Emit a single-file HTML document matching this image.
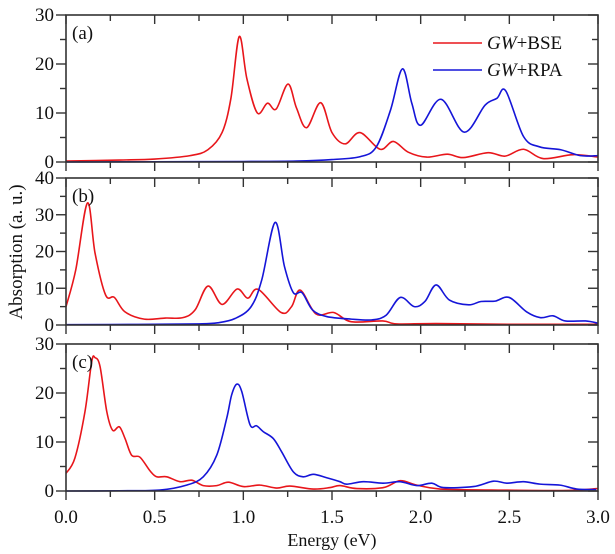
<!DOCTYPE html>
<html><head><meta charset="utf-8"><style>
html,body{margin:0;padding:0;background:#fff;}
svg{display:block;font-family:"Liberation Serif",serif;}
</style></head><body>
<svg id="chart" width="615" height="554" viewBox="0 0 615 554">
<text x="22" y="252" transform="rotate(-90 22 252)" text-anchor="middle" font-size="19" fill="#111">Absorption (a. u.)</text>
<text x="332" y="546" text-anchor="middle" font-size="18" fill="#111">Energy (eV)</text>
</svg>
<script>
const xTicks = [0, 0.5, 1.0, 1.5, 2.0, 2.5, 3.0];
const xTickLabels = ["0.0","0.5","1.0","1.5","2.0","2.5","3.0"];
const panelLabels = ["(a)","(b)","(c)"];
const panelMax = [30, 40, 30];
// panel (a)
const aBseE = [0,0.3,0.5,0.7,0.8,0.88,0.93,0.977,1.02,1.079,1.136,1.185,1.252,1.30,1.357,1.436,1.50,1.574,1.658,1.771,1.846,1.93,2.034,2.15,2.24,2.38,2.476,2.58,2.69,2.86,3.0];
const aBseV = [0.2,0.4,0.6,1.3,2.5,6,13,25.6,17,10,12,10.8,15.9,11,7,12.1,6,3.7,6,2.6,4.2,2,1,1.6,0.9,1.9,1.2,2.6,0.7,1.5,1.0];
const aRpaE = [0,0.5,1.0,1.3,1.5,1.66,1.75,1.83,1.897,1.95,2.0,2.115,2.245,2.363,2.43,2.48,2.58,2.67,2.79,2.9,3.0];
const aRpaV = [0,0.05,0.1,0.2,0.5,1.1,3.1,10.6,19,12,7.5,12.8,6.1,11.6,13,14.5,5.2,3.1,2.5,1.3,1.3];
// panel (b)
const bBseE = [0,0.055,0.121,0.164,0.223,0.273,0.332,0.441,0.56,0.659,0.728,0.801,0.88,0.965,1.025,1.084,1.213,1.272,1.321,1.41,1.51,1.607,1.786,1.865,2.09,2.5,3.0];
const bBseV = [5,15,33.2,19.5,8.2,7.5,3.6,1.6,1.9,2,4.1,10.6,5.6,9.8,7.3,9.7,3.4,5,9.5,3,3.4,0.9,1.1,0.3,0.4,0.2,0.2];
const bRpaE = [0,0.4,0.75,0.856,0.955,1.044,1.104,1.179,1.232,1.282,1.331,1.39,1.47,1.608,1.727,1.806,1.885,1.964,2.024,2.087,2.162,2.271,2.34,2.42,2.499,2.597,2.676,2.746,2.815,2.93,3.0];
const bRpaV = [0.1,0.15,0.3,0.6,1.8,5,12.3,27.9,15.9,8.8,8.8,4.1,2.3,1.6,1.4,2.7,7.5,5,6.4,10.9,6.8,5.5,6.4,6.5,7.5,3.6,2,2.5,1.1,1.1,0.5];
// panel (c)
const cBseE = [0,0.05,0.107,0.145,0.164,0.192,0.23,0.263,0.301,0.333,0.37,0.417,0.474,0.511,0.568,0.643,0.709,0.774,0.85,0.916,1.0,1.094,1.188,1.263,1.395,1.489,1.545,1.64,1.79,1.884,1.978,2.11,2.4,2.8,3.0];
const cBseV = [3.6,6.7,16.2,26.4,27.2,25.4,16.2,12.4,13.1,10.7,7.3,6.9,4.1,2.9,2.9,1.9,2.2,1.1,1.1,1.8,0.9,1.2,0.6,1,0.4,0.7,1.1,0.5,0.7,2.1,1.2,0.4,0.2,0.1,0.5];
const cRpaE = [0,0.3,0.53,0.68,0.774,0.85,0.906,0.934,0.963,0.991,1.038,1.075,1.113,1.169,1.216,1.282,1.338,1.395,1.47,1.545,1.583,1.677,1.79,1.884,1.978,2.063,2.128,2.297,2.41,2.486,2.58,2.673,2.786,2.88,2.99];
const cRpaV = [0,0.05,0.2,1.2,2.9,7.3,14.8,19.6,21.8,20.3,13.5,13.3,12.1,10.7,8,3.9,2.9,3.4,2.7,1.9,1.4,1.9,1.6,1.9,1.1,1.6,0.7,0.9,2,1.6,1.9,1.4,1.2,0.4,0.3];

const NS = "http://www.w3.org/2000/svg";
const svg = document.getElementById("chart");
const X0 = 66, X1 = 598;
const panels = [{top:15,bot:162},{top:178,bot:325},{top:344,bot:491}];
function xScale(e){ return X0 + (e/3.0)*(X1-X0); }
function yScaleFor(p, max){ return v => p.bot - (v/max)*(p.bot-p.top); }
function mk(tag, attrs){ const el=document.createElementNS(NS,tag); for(const k in attrs) el.setAttribute(k,attrs[k]); svg.appendChild(el); return el; }
function smoothPath(E,V,ys){
  const pts=E.map((e,i)=>[xScale(e),ys(V[i])]);
  let d="M"+pts[0][0].toFixed(2)+","+pts[0][1].toFixed(2);
  for(let i=0;i<pts.length-1;i++){
    const p0=pts[Math.max(0,i-1)],p1=pts[i],p2=pts[i+1],p3=pts[Math.min(pts.length-1,i+2)];
    const c1=[p1[0]+(p2[0]-p0[0])/6,p1[1]+(p2[1]-p0[1])/6];
    const c2=[p2[0]-(p3[0]-p1[0])/6,p2[1]-(p3[1]-p1[1])/6];
    d+=" C"+c1[0].toFixed(2)+","+c1[1].toFixed(2)+" "+c2[0].toFixed(2)+","+c2[1].toFixed(2)+" "+p2[0].toFixed(2)+","+p2[1].toFixed(2);
  }
  return d;
}
const series = [[aBseE,aBseV,aRpaE,aRpaV],[bBseE,bBseV,bRpaE,bRpaV],[cBseE,cBseV,cRpaE,cRpaV]];
const ax="#333";
panels.forEach((p,pi)=>{
  const max=panelMax[pi], ys=yScaleFor(p,max);
  // curves
  const s=series[pi];
  const r=mk("path",{d:smoothPath(s[0],s[1],ys),fill:"none",stroke:"#e8161b","stroke-width":1.6});
  
  
  const b=mk("path",{d:smoothPath(s[2],s[3],ys),fill:"none",stroke:"#1515d8","stroke-width":1.6});
  
  
  // frame
  const fr=mk("rect",{x:X0,y:p.top,width:X1-X0,height:p.bot-p.top,fill:"none",stroke:ax,"stroke-width":1.6});
  
  
  // x ticks
  for(let e=0;e<=3.001;e+=0.25){
    const major=Math.abs(e*2-Math.round(e*2))<1e-6, L=major?9:6, x=xScale(e);
    mk("line",{x1:x,x2:x,y1:p.top,y2:p.top+L,stroke:ax,"stroke-width":1.4});
    mk("line",{x1:x,x2:x,y1:p.bot,y2:p.bot+L,stroke:ax,"stroke-width":1.4});
  }
  // y ticks
  for(let v=0;v<=max;v+=5){
    const major=v%10===0, L=major?10:6, y=ys(v);
    mk("line",{x1:X0-L,x2:X0,y1:y,y2:y,stroke:ax,"stroke-width":1.4});
    mk("line",{x1:X1-L,x2:X1,y1:y,y2:y,stroke:ax,"stroke-width":1.4});
    if(major){
      const t=mk("text",{x:X0-12,y:y+6,"text-anchor":"end","font-size":19,fill:"#111"});
      t.textContent=v;
      
      
    }
  }
  const pl=mk("text",{x:72,y:p.top+24,"font-size":19,fill:"#111"});
  pl.textContent=panelLabels[pi];
  
  
});
xTicks.forEach((e,i)=>{
  const t=mk("text",{x:xScale(e),y:523,"text-anchor":"middle","font-size":19,fill:"#111"});
  t.textContent=xTickLabels[i];
  
  
});
// legend
const lg=[["#e8161b","BSE",43],["#1515d8","RPA",70]];
lg.forEach(l=>{
  const ln=mk("line",{x1:433,x2:482,y1:l[2],y2:l[2],stroke:l[0],"stroke-width":1.6});
  
  
  const t=mk("text",{x:487,y:l[2]+6,"font-size":19,fill:"#111"});
  t.innerHTML='<tspan font-style="italic">GW</tspan>+'+l[1];
  
  
});
</script>
</body></html>
